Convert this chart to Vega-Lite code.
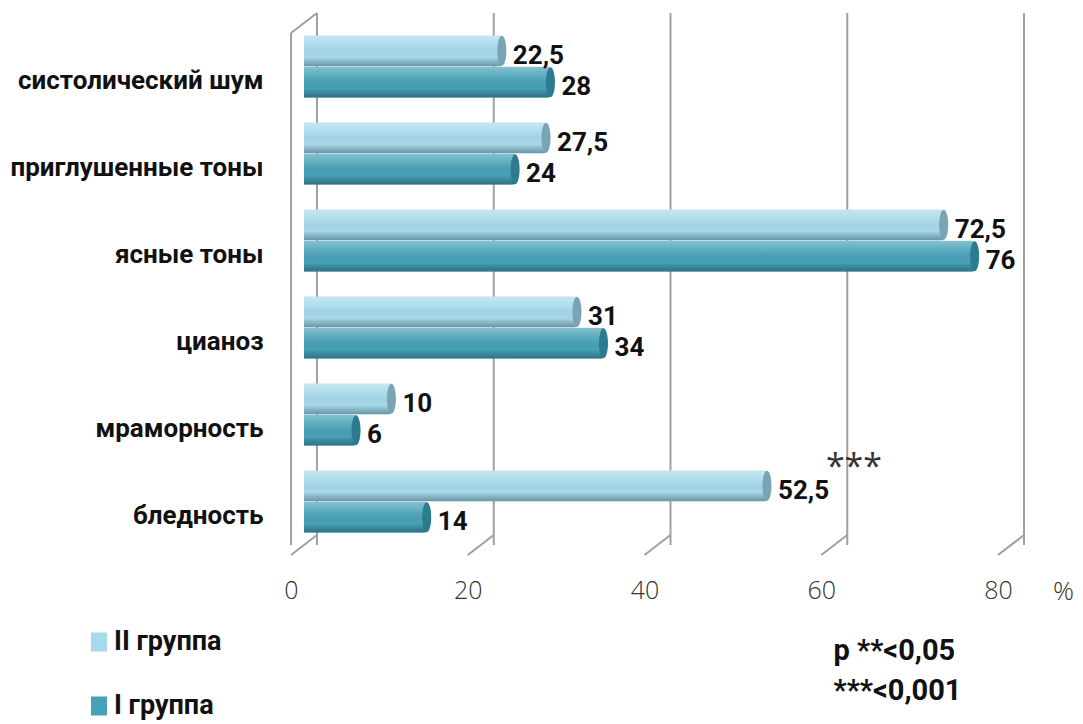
{
  "$schema": "https://vega.github.io/schema/vega-lite/v6.json",
  "width": 707,
  "height": 522,
  "autosize": {"type": "none"},
  "padding": {"left": 304, "top": 23, "right": 72, "bottom": 179},
  "background": "white",
  "datasets": {
    "rows": [
      {"category": "систолический шум", "group": "II группа", "value": 22.5},
      {"category": "систолический шум", "group": "I группа", "value": 28},
      {"category": "приглушенные тоны", "group": "II группа", "value": 27.5},
      {"category": "приглушенные тоны", "group": "I группа", "value": 24},
      {"category": "ясные тоны", "group": "II группа", "value": 72.5},
      {"category": "ясные тоны", "group": "I группа", "value": 76},
      {"category": "цианоз", "group": "II группа", "value": 31},
      {"category": "цианоз", "group": "I группа", "value": 34},
      {"category": "мраморность", "group": "II группа", "value": 10},
      {"category": "мраморность", "group": "I группа", "value": 6},
      {"category": "бледность", "group": "II группа", "value": 52.5, "mark": "***"},
      {"category": "бледность", "group": "I группа", "value": 14}
    ],
    "ticks": [{"tick": 0}, {"tick": 20}, {"tick": 40}, {"tick": 60}, {"tick": 80}]
  },
  "config": {
    "view": {"stroke": null},
    "font": "Roboto"
  },
  "layer": [
    {
      "description": "back wall grid lines",
      "data": {"name": "ticks"},
      "mark": {"type": "rule", "color": "#a0a0a0", "strokeWidth": 2, "xOffset": 13, "yOffset": -10, "y2Offset": -10},
      "encoding": {
        "x": {"field": "tick", "type": "quantitative", "scale": {"domain": [0, 80]}}
      }
    },
    {
      "description": "floor edges from back to front",
      "data": {"name": "ticks"},
      "mark": {"type": "rule", "color": "#a0a0a0", "strokeWidth": 2, "xOffset": 13, "x2Offset": -13, "yOffset": -10, "y2Offset": 10},
      "encoding": {
        "x": {"field": "tick", "type": "quantitative"},
        "x2": {"field": "tick"},
        "y": {"value": "height"},
        "y2": {"value": "height"}
      }
    },
    {
      "description": "front edge of the side wall",
      "data": {"name": "ticks"},
      "transform": [{"filter": "datum.tick === 0"}],
      "mark": {"type": "rule", "color": "#a0a0a0", "strokeWidth": 2, "xOffset": -13, "yOffset": 10, "y2Offset": 10},
      "encoding": {
        "x": {"field": "tick", "type": "quantitative"}
      }
    },
    {
      "description": "top edge of the side wall",
      "data": {"name": "ticks"},
      "transform": [{"filter": "datum.tick === 0"}],
      "mark": {"type": "rule", "color": "#a0a0a0", "strokeWidth": 2, "xOffset": 13, "x2Offset": -13, "yOffset": -10, "y2Offset": 10},
      "encoding": {
        "x": {"field": "tick", "type": "quantitative"},
        "x2": {"field": "tick"},
        "y": {"value": 0},
        "y2": {"value": 0}
      }
    },
    {
      "data": {"name": "rows"},
      "transform": [
        {"calculate": "replace(format(datum.value, '~g'), '.', ',')", "as": "label"}
      ],
      "encoding": {
        "y": {
          "field": "category",
          "type": "nominal",
          "sort": null,
          "scale": {"paddingInner": 0.28, "paddingOuter": 0.14},
          "axis": {
            "domain": false,
            "ticks": false,
            "labelPadding": 41,
            "labelOffset": 14,
            "labelFont": "Roboto",
            "labelFontSize": 26,
            "labelFontWeight": "bold",
            "labelColor": "#111111",
            "labelLimit": 300,
            "title": ["p **<0,05", "***<0,001"],
            "titleFont": "Roboto",
            "titleFontSize": 29,
            "titleFontWeight": "bold",
            "titleColor": "#111111",
            "titleAngle": 0,
            "titleAlign": "left",
            "titleBaseline": "top",
            "titleLineHeight": 40,
            "titleX": 529,
            "titleY": 613
          }
        },
        "yOffset": {"field": "group", "type": "nominal", "sort": ["II группа", "I группа"]},
        "x": {
          "field": "value",
          "type": "quantitative",
          "scale": {"domain": [0, 80]},
          "axis": {
            "values": [0, 20, 40, 60, 80],
            "domain": false,
            "ticks": false,
            "grid": false,
            "labelFlush": false,
            "labelOffset": -13,
            "labelPadding": 33,
            "labelFont": "Open Sans",
            "labelFontWeight": 300,
            "labelFontSize": 25,
            "labelColor": "#333333",
            "title": "%",
            "titleFont": "Open Sans",
            "titleFontWeight": 300,
            "titleFontSize": 26,
            "titleColor": "#333333",
            "titleAngle": 0,
            "titleAlign": "center",
            "titleBaseline": "middle",
            "titleX": 759,
            "titleY": 46
          }
        }
      },
      "layer": [
        {
          "mark": {"type": "bar", "cornerRadiusEnd": 4},
          "encoding": {
            "color": {
              "field": "group",
              "type": "nominal",
              "scale": {"domain": ["II группа", "I группа"], "range": ["#a6d9ea", "#47a1b7"]},
              "legend": {
                "title": null,
                "orient": "none",
                "legendX": -224,
                "legendY": 600,
                "direction": "vertical",
                "symbolType": "M-0.42,-0.5H0.42V0.5H-0.42Z",
                "symbolSize": 1444,
                "symbolStrokeWidth": 0,
                "symbolOpacity": 1,
                "rowPadding": 32,
                "labelFont": "Roboto",
                "labelFontSize": 27,
                "labelFontWeight": "bold",
                "labelColor": "#111111",
                "labelOffset": -4
              }
            }
          }
        },
        {
          "mark": {
            "type": "bar",
            "cornerRadiusEnd": 4,
            "fill": {
              "gradient": "linear",
              "x1": 0, "y1": 0, "x2": 0, "y2": 1,
              "stops": [
                {"offset": 0, "color": "rgba(255,255,255,0.35)"},
                {"offset": 0.3, "color": "rgba(255,255,255,0.12)"},
                {"offset": 0.7, "color": "rgba(0,0,0,0.0)"},
                {"offset": 1, "color": "rgba(0,40,60,0.38)"}
              ]
            }
          }
        },
        {
          "mark": {
            "type": "point",
            "filled": true,
            "opacity": 1,
            "shape": "M0,-1A0.3,1,0,1,1,0,1A0.3,1,0,1,1,0,-1Z",
            "size": 900,
            "xOffset": -1
          },
          "encoding": {
            "fill": {
              "condition": {"test": "datum.group === 'II группа'", "value": "#7aa3b3"},
              "value": "#2c7b8e"
            }
          }
        },
        {
          "mark": {
            "type": "text",
            "align": "left",
            "baseline": "middle",
            "dx": 10,
            "dy": 5,
            "font": "Roboto",
            "fontSize": 26,
            "fontWeight": "bold",
            "color": "#111111"
          },
          "encoding": {"text": {"field": "label"}}
        },
        {
          "transform": [{"filter": "isValid(datum.mark)"}],
          "mark": {
            "type": "text",
            "align": "center",
            "baseline": "middle",
            "dx": 86,
            "dy": -18,
            "font": "Open Sans",
            "fontSize": 34,
            "color": "#333333"
          },
          "encoding": {"text": {"field": "mark"}}
        }
      ]
    }
  ]
}
